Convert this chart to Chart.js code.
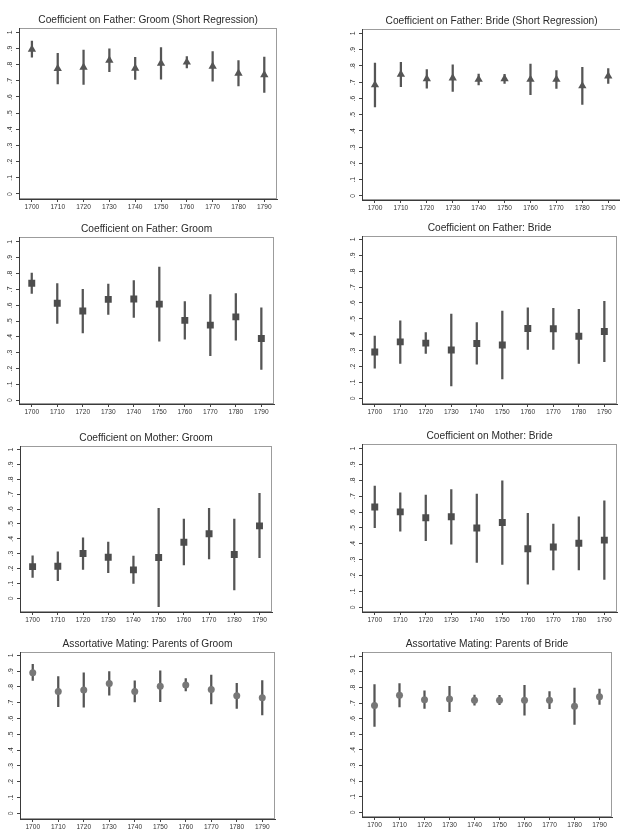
<!DOCTYPE html>
<html>
<head>
<meta charset="utf-8">
<script src="https://cdn.jsdelivr.net/npm/chart.js@4.4.0/dist/chart.umd.min.js"></script>
<style>
html,body{margin:0;padding:0;background:#fff;overflow:hidden;width:620px;height:839px;}
canvas{position:absolute;}
</style>
</head>
<body>
<script>
// ---------- DATA ----------
const decades = ["1700","1710","1720","1730","1740","1750","1760","1770","1780","1790"];
const yTickValues = [0,0.1,0.2,0.3,0.4,0.5,0.6,0.7,0.8,0.9,1];
const yTickLabels = ["0",".1",".2",".3",".4",".5",".6",".7",".8",".9","1"];

// Coefficient on Father: Groom (Short Regression)
const fatherGroomShortEst = [0.895,0.776,0.783,0.827,0.777,0.808,0.815,0.790,0.746,0.737];
const fatherGroomShortLo  = [0.846,0.680,0.677,0.756,0.709,0.710,0.779,0.697,0.668,0.628];
const fatherGroomShortHi  = [0.946,0.870,0.890,0.897,0.845,0.906,0.850,0.881,0.825,0.846];

// Coefficient on Father: Bride (Short Regression)
const fatherBrideShortEst = [0.683,0.748,0.721,0.725,0.717,0.721,0.717,0.717,0.677,0.738];
const fatherBrideShortLo  = [0.548,0.672,0.664,0.643,0.684,0.693,0.623,0.662,0.563,0.692];
const fatherBrideShortHi  = [0.818,0.822,0.778,0.807,0.750,0.749,0.811,0.772,0.791,0.784];

// Coefficient on Father: Groom
const fatherGroomEst = [0.739,0.612,0.563,0.637,0.639,0.607,0.504,0.474,0.526,0.389];
const fatherGroomLo  = [0.674,0.484,0.425,0.541,0.522,0.373,0.385,0.280,0.379,0.194];
const fatherGroomHi  = [0.804,0.737,0.701,0.733,0.756,0.842,0.623,0.667,0.674,0.583];

// Coefficient on Father: Bride
const fatherBrideEst = [0.291,0.355,0.347,0.304,0.345,0.335,0.439,0.438,0.391,0.420];
const fatherBrideLo  = [0.189,0.220,0.283,0.078,0.214,0.122,0.308,0.308,0.220,0.230];
const fatherBrideHi  = [0.392,0.488,0.413,0.530,0.476,0.549,0.570,0.566,0.560,0.610];

// Coefficient on Mother: Groom
const motherGroomEst = [0.213,0.216,0.301,0.276,0.191,0.274,0.377,0.434,0.294,0.487];
const motherGroomLo  = [0.141,0.119,0.195,0.172,0.100,-0.056,0.224,0.264,0.056,0.273];
const motherGroomHi  = [0.286,0.313,0.407,0.378,0.284,0.604,0.532,0.604,0.532,0.705];

// Coefficient on Mother: Bride
const motherBrideEst = [0.632,0.601,0.564,0.570,0.499,0.534,0.368,0.379,0.403,0.423];
const motherBrideLo  = [0.501,0.480,0.419,0.398,0.283,0.270,0.145,0.235,0.235,0.176];
const motherBrideHi  = [0.763,0.721,0.706,0.742,0.713,0.797,0.591,0.524,0.570,0.671];

// Assortative Mating: Parents of Groom
const assortGroomEst = [0.890,0.770,0.780,0.822,0.771,0.804,0.812,0.784,0.743,0.731];
const assortGroomLo  = [0.840,0.675,0.672,0.748,0.705,0.706,0.775,0.692,0.664,0.622];
const assortGroomHi  = [0.943,0.865,0.888,0.897,0.838,0.902,0.852,0.875,0.822,0.840];

// Assortative Mating: Parents of Bride
const assortBrideEst = [0.684,0.750,0.722,0.727,0.719,0.719,0.719,0.719,0.680,0.740];
const assortBrideLo  = [0.551,0.675,0.666,0.645,0.687,0.690,0.623,0.665,0.563,0.691];
const assortBrideHi  = [0.818,0.825,0.778,0.808,0.752,0.750,0.814,0.774,0.797,0.790];

// ---------- LAYOUT / STYLE ----------
const FONT = "'Liberation Sans', Arial, Helvetica, sans-serif";
const markerStyles = {
  triangle: {pointStyle:'triangle', radius:4.8, color:'#555555'},
  rect:     {pointStyle:'rect',     radius:4.9, color:'#4d4d4d'},
  circle:   {pointStyle:'circle',   radius:3.5, color:'#777777'}
};
// box = [left, right, top, bottom] of the plot region in page pixels
const panels = [
  {title:"Coefficient on Father: Groom (Short Regression)", est:fatherGroomShortEst, lo:fatherGroomShortLo, hi:fatherGroomShortHi, marker:'triangle', box:[19,281,28,199], yMin:-0.031, yMax:1.025},
  {title:"Coefficient on Father: Bride (Short Regression)", est:fatherBrideShortEst, lo:fatherBrideShortLo, hi:fatherBrideShortHi, marker:'triangle', box:[362,625,29,200], yMin:-0.025, yMax:1.026},
  {title:"Coefficient on Father: Groom", est:fatherGroomEst, lo:fatherGroomLo, hi:fatherGroomHi, marker:'rect', box:[19,278,237,404], yMin:-0.025, yMax:1.03},
  {title:"Coefficient on Father: Bride", est:fatherBrideEst, lo:fatherBrideLo, hi:fatherBrideHi, marker:'rect', box:[362,621,236,404], yMin:-0.036, yMax:1.02},
  {title:"Coefficient on Mother: Groom", est:motherGroomEst, lo:motherGroomLo, hi:motherGroomHi, marker:'rect', box:[20,276,446,612], yMin:-0.092, yMax:1.022},
  {title:"Coefficient on Mother: Bride", est:motherBrideEst, lo:motherBrideLo, hi:motherBrideHi, marker:'rect', box:[362,621,444,612], yMin:-0.03, yMax:1.027},
  {title:"Assortative Mating: Parents of Groom", est:assortGroomEst, lo:assortGroomLo, hi:assortGroomHi, marker:'circle', box:[20,278,652,819], yMin:-0.036, yMax:1.019},
  {title:"Assortative Mating: Parents of Bride", est:assortBrideEst, lo:assortBrideLo, hi:assortBrideHi, marker:'circle', box:[362,615,652,817], yMin:-0.03, yMax:1.026}
];

const Y_AXIS_W = 19, TITLE_H = 16, X_AXIS_H = 14;

const framePlugin = {
  id: 'frame',
  beforeDraw(chart) {
    const {ctx, chartArea: a} = chart;
    ctx.save();
    ctx.strokeStyle = '#9c9c9c';
    ctx.lineWidth = 1;
    ctx.strokeRect(Math.round(a.left) + 0.5, Math.round(a.top) + 0.5,
                   Math.round(a.right - a.left) - 1, Math.round(a.bottom - a.top) - 1);
    ctx.restore();
  }
};

function makePanel(p) {
  const [bl, br, bt, bb] = p.box;
  const left = bl - Y_AXIS_W, top = bt - TITLE_H;
  const w = br - left + 1, h = bb - top + X_AXIS_H;
  const cv = document.createElement('canvas');
  cv.width = w; cv.height = h;
  cv.style.left = left + 'px'; cv.style.top = top + 'px';
  cv.style.width = w + 'px'; cv.style.height = h + 'px';
  document.body.appendChild(cv);
  const m = markerStyles[p.marker];
  new Chart(cv, {
    type: 'bar',
    data: {
      labels: decades,
      datasets: [
        {
          type: 'line',
          data: p.est,
          showLine: false,
          pointStyle: m.pointStyle,
          pointRadius: m.radius,
          pointBackgroundColor: m.color,
          pointBorderColor: m.color,
          pointBorderWidth: 0,
          order: 0
        },
        {
          type: 'bar',
          data: p.lo.map((v, i) => [v, p.hi[i]]),
          backgroundColor: '#555555',
          borderWidth: 0,
          barThickness: 1.6,
          order: 1
        }
      ]
    },
    options: {
      responsive: false,
      animation: false,
      devicePixelRatio: 1,
      layout: {padding: {left: 0, right: 1, top: 0, bottom: 0}},
      plugins: {
        legend: {display: false},
        tooltip: {enabled: false},
        title: {
          display: true,
          text: p.title,
          fullSize: false,
          color: '#2a2a2a',
          font: {family: FONT, size: 10.2, weight: 'normal', lineHeight: 1.2},
          padding: {top: 2, bottom: 2}
        }
      },
      scales: {
        x: {
          type: 'category',
          offset: true,
          grid: {display: true, drawOnChartArea: false, drawTicks: true, tickLength: 3, tickColor: '#444', offset: false},
          border: {display: true, color: '#3a3a3a', width: 1},
          ticks: {autoSkip: false, maxRotation: 0, minRotation: 0, padding: 1, color: '#333',
                  font: {family: FONT, size: 6.6}},
          afterFit(s) { s.height = X_AXIS_H; }
        },
        y: {
          type: 'linear',
          min: p.yMin,
          max: p.yMax,
          afterBuildTicks(s) { s.ticks = yTickValues.map(v => ({value: v})); },
          grid: {display: true, drawOnChartArea: false, drawTicks: true, tickLength: 3, tickColor: '#444'},
          border: {display: true, color: '#3a3a3a', width: 1},
          ticks: {autoSkip: false, minRotation: 90, maxRotation: 90, crossAlign: 'center', padding: 3,
                  color: '#333', font: {family: FONT, size: 6.8},
                  callback: (v, i) => yTickLabels[i]},
          afterFit(s) { s.width = Y_AXIS_W; }
        }
      }
    },
    plugins: [framePlugin]
  });
}

panels.forEach(makePanel);
</script>
</body>
</html>
